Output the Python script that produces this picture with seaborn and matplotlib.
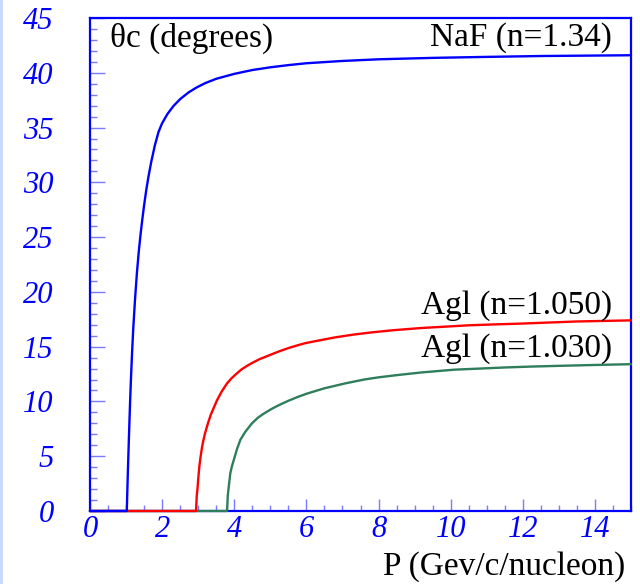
import matplotlib
matplotlib.use("Agg")
import matplotlib.pyplot as plt
from matplotlib.patches import Rectangle
from matplotlib.ticker import MultipleLocator
import seaborn as sns
import pandas as pd

# ---- data ----
naf_p = [0, 1.02, 1.05, 1.08, 1.11, 1.13, 1.167, 1.20, 1.25, 1.30, 1.35, 1.40, 1.45, 1.50,
         1.56, 1.62, 1.70, 1.80, 1.90, 2.0, 2.15, 2.31, 2.5, 2.73, 2.95, 3.19, 3.5, 4.0,
         4.5, 5.0, 5.5, 6.0, 7.0, 8.0, 9.5, 11.0, 12.5, 15.0]
naf_t = [0, 0, 3.6, 6.8, 9.8, 11.6, 14.5, 16.7, 19.4, 21.7, 23.6, 25.2, 26.6, 27.9,
         29.3, 30.5, 31.9, 33.4, 34.6, 35.4, 36.25, 36.95, 37.6, 38.2, 38.65, 39.05, 39.45, 39.9,
         40.25, 40.5, 40.7, 40.87, 41.08, 41.23, 41.36, 41.45, 41.53, 41.6]

agl050_p = [0, 2.94, 2.96, 2.98, 3.0, 3.03, 3.06, 3.10, 3.14, 3.19, 3.27, 3.35, 3.52, 3.65,
            3.80, 3.92, 4.05, 4.2, 4.35, 4.5, 4.7, 4.9, 5.05, 5.25, 5.5, 5.75, 5.97, 6.4,
            6.8, 7.3, 7.8, 8.4, 9.17, 10.5, 11.2, 11.9, 13.5, 15.0]
agl050_t = [0, 0, 1.4, 2.0, 2.9, 4.0, 4.8, 5.7, 6.4, 7.1, 8.0, 8.8, 10.1, 10.9,
            11.65, 12.1, 12.5, 12.92, 13.24, 13.52, 13.86, 14.12, 14.32, 14.58, 14.87, 15.12, 15.32, 15.6,
            15.85, 16.1, 16.3, 16.5, 16.7, 16.95, 17.03, 17.1, 17.3, 17.4]

agl030_p = [0, 3.80, 3.82, 3.84, 3.89, 3.94, 4.0, 4.08, 4.17, 4.3, 4.49, 4.65, 4.8, 5.0,
            5.14, 5.3, 5.5, 5.75, 6.02, 6.5, 7.08, 7.6, 8.0, 8.5, 9.2, 10.1, 10.8, 11.5,
            12.2, 13.0, 14.0, 15.0]
agl030_t = [0, 0, 1.4, 2.0, 3.44, 4.15, 4.8, 5.7, 6.5, 7.2, 8.0, 8.5, 8.85, 9.25,
            9.5, 9.76, 10.06, 10.4, 10.72, 11.2, 11.65, 12.0, 12.2, 12.4, 12.65, 12.9, 13.0, 13.1,
            13.18, 13.25, 13.33, 13.4]

labels = ["Agl (n=1.030)", "Agl (n=1.050)", "NaF (n=1.34)"]
colors = ["#2e7d5b", "#ff0000", "#0000ff"]
x_ticks = [0, 2, 4, 6, 8, 10, 12, 14]
y_ticks = [0, 5, 10, 15, 20, 25, 30, 35, 40, 45]

df = pd.concat([
    pd.DataFrame({"p": agl030_p, "theta": agl030_t, "mat": labels[0]}),
    pd.DataFrame({"p": agl050_p, "theta": agl050_t, "mat": labels[1]}),
    pd.DataFrame({"p": naf_p, "theta": naf_t, "mat": labels[2]}),
])

sns.set_style("white")
plt.rcParams["font.family"] = ["Liberation Serif", "DejaVu Serif"]

fig = plt.figure(figsize=(6.4, 5.84), dpi=100)
fig.patches.append(Rectangle((0, 0), 3 / 640, 1, transform=fig.transFigure,
                             facecolor="#c9dcff", edgecolor="none", zorder=0))
ax = fig.add_axes([90 / 640, 1 - 511 / 584, (631 - 90) / 640, (511 - 18) / 584])

sns.lineplot(data=df, x="p", y="theta", hue="mat", hue_order=labels,
             palette=dict(zip(labels, colors)), estimator=None, sort=False,
             linewidth=1.7, legend=False, ax=ax)
for ln in ax.lines:
    ln.set_clip_on(False)
    ln.set_zorder(3)
    ln.set_solid_joinstyle("round")

ax.set_xlim(0, 15)
ax.set_ylim(0, 45)
ax.set_xticks(x_ticks)
ax.set_yticks(y_ticks)
ax.xaxis.set_minor_locator(MultipleLocator(0.5))
ax.yaxis.set_minor_locator(MultipleLocator(1))
ax.set_xlabel("")
ax.set_ylabel("")

for s in ax.spines.values():
    s.set_color("#0000ff")
    s.set_linewidth(1.6)
    s.set_visible(True)

tick_col = "#7a7aff"
ax.tick_params(axis="y", which="major", direction="in", length=11, width=1.0,
               color=tick_col, pad=26, labelsize=22, labelcolor="#0000ff")
ax.tick_params(axis="y", which="minor", direction="in", length=5, width=1.0, color=tick_col)
ax.tick_params(axis="x", which="major", direction="in", length=9, width=1.0,
               color=tick_col, pad=3, labelsize=22, labelcolor="#0000ff")
ax.tick_params(axis="x", which="minor", direction="in", length=4.5, width=1.0, color=tick_col)
ax.tick_params(left=True, bottom=True, top=False, right=False, which="both")
for lab in ax.get_xticklabels() + ax.get_yticklabels():
    lab.set_fontstyle("italic")

tf = fig.transFigure
txt = dict(fontsize=24, color="black", transform=tf, va="center")
ax.text(110 / 640, 1 - 38 / 584, "θc (degrees)", ha="left", **txt)
ax.text(612 / 640, 1 - 38 / 584, "NaF (n=1.34)", ha="right", **txt)
ax.text(612 / 640, 1 - 306 / 584, "Agl (n=1.050)", ha="right", **txt)
ax.text(612 / 640, 1 - 349 / 584, "Agl (n=1.030)", ha="right", **txt)
ax.text(625 / 640, 1 - 567 / 584, "P (Gev/c/nucleon)", ha="right", **txt)

fig.savefig("out.png", dpi=100)
